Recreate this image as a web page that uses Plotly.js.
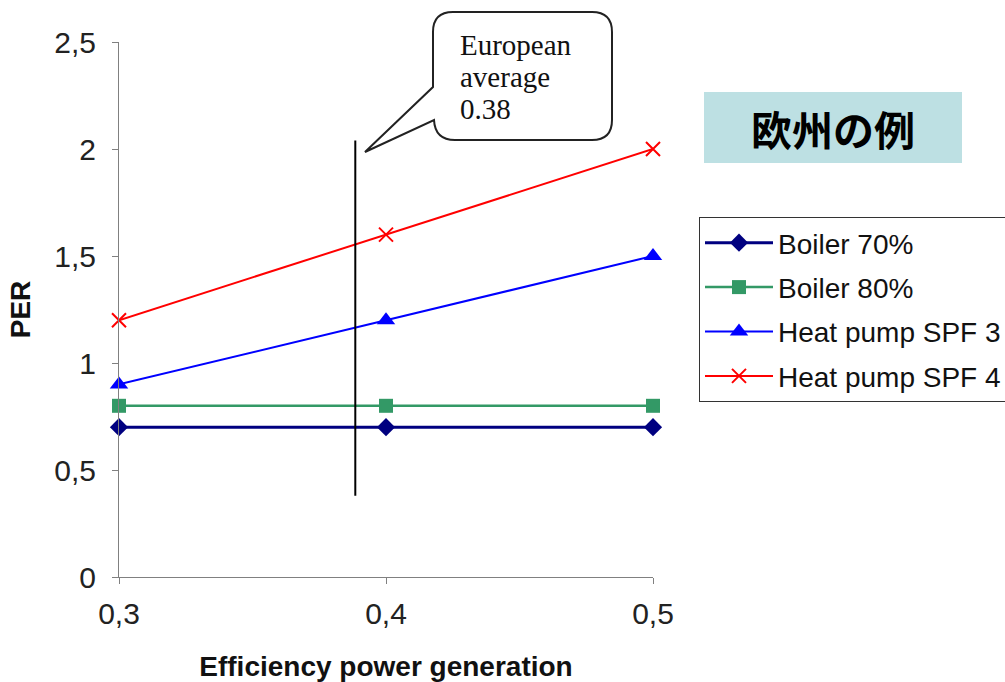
<!DOCTYPE html>
<html>
<head>
<meta charset="utf-8">
<script src="https://cdn.plot.ly/plotly-3.0.1.min.js"></script>
<style>html,body{margin:0;padding:0;background:#fff;}#chart{width:1005px;height:682px;}</style>
</head>
<body>
<div id="chart"></div>
<script>
// ---- data ----
const efficiency = [0.3, 0.4, 0.5];
const boiler70 = [0.7, 0.7, 0.7];
const boiler80 = [0.8, 0.8, 0.8];
const heatPumpSPF3 = [0.9, 1.2, 1.5];
const heatPumpSPF4 = [1.2, 1.6, 2.0];
const seriesNames = ['Boiler 70%', 'Boiler 80%', 'Heat pump SPF 3', 'Heat pump SPF 4'];
const europeanAverageX = [0.3885, 0.3885];
const europeanAverageY = [0.38, 2.04];
const xTicks = [0.3, 0.4, 0.5];
const yTicks = [0, 0.5, 1, 1.5, 2, 2.5];
const calloutLines = ['European', 'average', '0.38'];
const badgeText = '欧州の例';

// plot-area pixel box (for decorative callouts)
const W = 1005, H = 682;
const L = 119, R = 653, T = 42, B = 577;
const px = x => (x - L) / (R - L);
const py = y => (B - y) / (B - T);
const P = (x, y) => px(x).toFixed(5) + ',' + py(y).toFixed(5);

const calloutPath =
  'M' + P(453, 12) + ' L' + P(592, 12) + ' Q' + P(612, 12) + ' ' + P(612, 32) +
  ' L' + P(612, 120) + ' Q' + P(612, 140) + ' ' + P(592, 140) +
  ' L' + P(455, 140) + ' Q' + P(435, 140) + ' ' + P(434, 120) +
  ' L' + P(365, 152) + ' L' + P(433, 87) +
  ' L' + P(433, 32) + ' Q' + P(433, 12) + ' ' + P(453, 12) + ' Z';

const traces = [
  {x: efficiency, y: boiler70, name: seriesNames[0], legendgroup: 'a', mode: 'lines+markers', cliponaxis: false,
   line: {color: '#000080', width: 3}, marker: {symbol: 'diamond', size: 14, color: '#000080'}},
  {x: efficiency, y: boiler80, name: seriesNames[1], legendgroup: 'b', mode: 'lines+markers', cliponaxis: false,
   line: {color: '#339966', width: 2.5}, marker: {symbol: 'square', size: 14, color: '#339966'}},
  {x: efficiency, y: heatPumpSPF3, name: seriesNames[2], legendgroup: 'c', mode: 'lines+markers', cliponaxis: false,
   line: {color: '#0000ff', width: 2}, marker: {symbol: 'triangle-up', size: 16, color: '#0000ff'}},
  {x: efficiency, y: heatPumpSPF4, name: seriesNames[3], legendgroup: 'd', mode: 'lines+markers', cliponaxis: false,
   line: {color: '#ff0000', width: 2}, marker: {symbol: 'x-thin-open', size: 14, color: '#ff0000', line: {width: 2, color: '#ff0000'}}},
  {x: europeanAverageX, y: europeanAverageY, mode: 'lines', showlegend: false, hoverinfo: 'skip',
   line: {color: '#000000', width: 2}}
];

const annotations = calloutLines.map((t, i) => ({
  xref: 'paper', yref: 'paper', x: px(459), y: py(45 + 32 * i), xanchor: 'left', yanchor: 'middle',
  text: t, showarrow: false, borderpad: 0,
  font: {family: 'Liberation Serif, Times New Roman, serif', size: 29, color: '#111111'}
}));
annotations.push({xref: 'paper', yref: 'paper', x: px(833), y: py(128), xanchor: 'center', yanchor: 'middle',
  text: '<b>' + badgeText + '</b>', showarrow: false,
  font: {family: 'Noto Sans CJK JP, sans-serif', size: 41, color: '#000000'}});

const layout = {
  width: W, height: H,
  margin: {l: L, r: W - R, t: T, b: H - B, pad: 0, autoexpand: false},
  paper_bgcolor: '#ffffff', plot_bgcolor: '#ffffff',
  font: {family: 'Liberation Sans, Arial, sans-serif', color: '#111111', size: 28},
  showlegend: true,
  legend: {
    x: px(699), y: py(217), xanchor: 'left', yanchor: 'top',
    bordercolor: '#333333', borderwidth: 1, bgcolor: '#ffffff',
    font: {size: 28, color: '#111111'}, tracegroupgap: 5, traceorder: 'grouped', itemwidth: 68
  },
  xaxis: {
    range: [0.3, 0.5], tickvals: xTicks, ticktext: xTicks.map(v => v.toFixed(1).replace('.', ',')),
    showgrid: false, zeroline: false, showline: true, linecolor: '#808080', linewidth: 1,
    ticks: 'outside', ticklen: 6, tickcolor: '#808080',
    tickfont: {size: 30, color: '#222222'}, ticklabelstandoff: 4,
    title: {text: '<b>Efficiency power generation</b>', font: {size: 28, color: '#111111'}, standoff: 28}
  },
  yaxis: {
    range: [0, 2.5], tickvals: yTicks, ticktext: yTicks.map(v => String(v).replace('.', ',')),
    showgrid: false, zeroline: false, showline: true, linecolor: '#808080', linewidth: 1,
    ticks: 'outside', ticklen: 6, tickcolor: '#808080',
    tickfont: {size: 30, color: '#222222'}, ticklabelstandoff: 10,
    title: {text: '<b>PER</b>', font: {size: 28, color: '#111111'}, standoff: 15}
  },
  shapes: [
    {type: 'path', xref: 'paper', yref: 'paper', path: calloutPath,
     line: {color: '#222222', width: 2}, fillcolor: '#ffffff', layer: 'above'},
    {type: 'rect', xref: 'paper', yref: 'paper', x0: px(704), x1: px(962), y0: py(163), y1: py(92),
     line: {width: 0}, fillcolor: '#bde0e3', layer: 'above'}
  ],
  annotations: annotations
};

Plotly.newPlot('chart', traces, layout, {staticPlot: true, displayModeBar: false});
</script>
</body>
</html>
